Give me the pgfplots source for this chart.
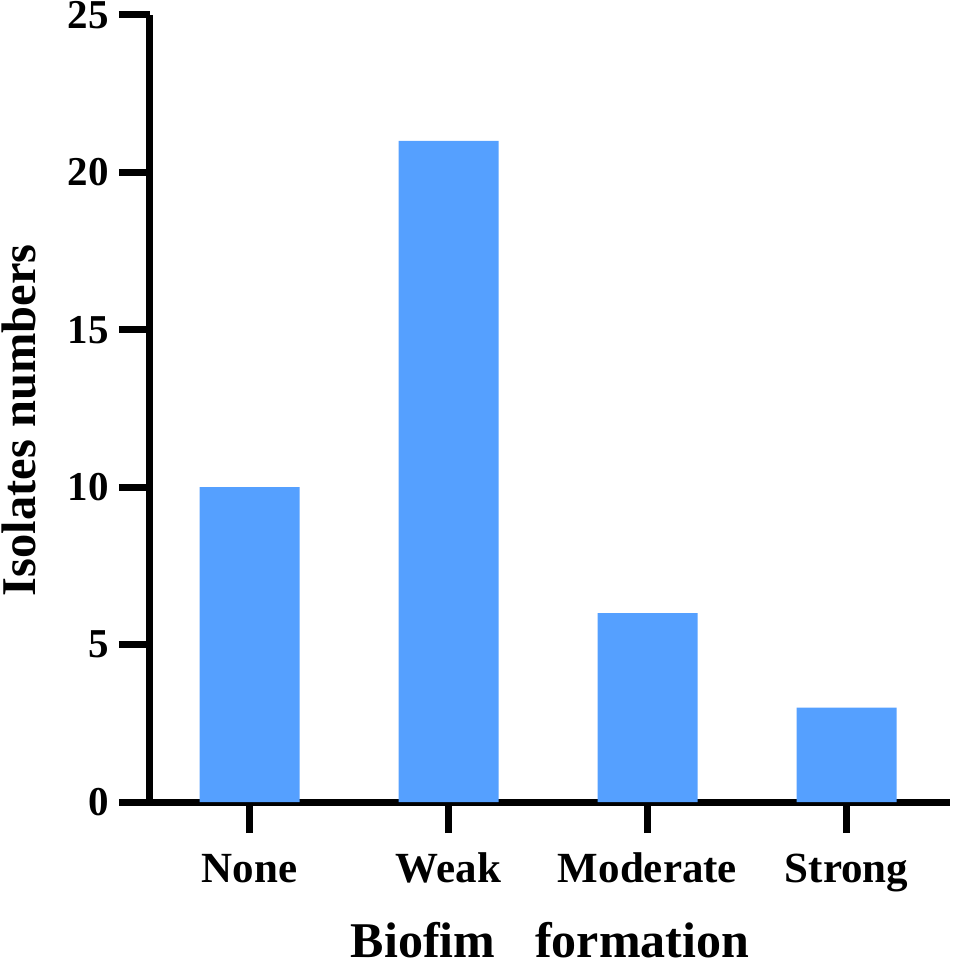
\documentclass[border=0pt]{standalone}
\usepackage{fontspec}
\setmainfont{Liberation Serif}
\usepackage{pgfplots}
\pgfplotsset{compat=1.18}
\definecolor{barblue}{RGB}{85,160,255}

\begin{document}
\begin{tikzpicture}
    % fixed page: axis box is 800 x 787 pt, lower-left at (0,0)
    \useasboundingbox (-150pt,-163pt) rectangle (802pt,802pt);
    \begin{axis}[
        at={(0pt,0pt)}, anchor=south west,
        scale only axis,
        width=800pt, height=787pt,
        ybar, bar width=100pt,
        xmin=-0.5, xmax=3.52,
        ymin=0, ymax=25,
        xtick=data,
        xticklabels={None,Weak,Moderate,Strong},
        ytick={0,5,...,25},
        axis x line=bottom, axis y line=left,
        axis line style={line width=7pt, -},
        tick style={line width=7pt, black},
        major tick length=31pt,
        tick align=outside,
        /pgf/number format/assume math mode=true,
        yticklabel style={font=\fontsize{41}{41}\selectfont\bfseries,
            anchor=east, inner sep=0pt, xshift=-10pt},
        xticklabel style={font=\fontsize{43}{43}\selectfont\bfseries,
            anchor=base, inner sep=0pt, yshift=-49pt},
        xlabel={Biofim\hspace{0.8em}formation},
        ylabel={Isolates numbers},
        xlabel style={font=\fontsize{50}{50}\selectfont\bfseries,
            at={(axis description cs:0.5,-0.198)}, anchor=base, inner sep=0pt},
        ylabel style={font=\fontsize{48.5}{48.5}\selectfont\bfseries,
            at={(axis description cs:-0.143,0.485)}, anchor=base, rotate=0, inner sep=0pt},
    ]
        \addplot[fill=barblue, draw=none] coordinates {
            (0,10) (1,21) (2,6) (3,3)
        };
    \end{axis}
\end{tikzpicture}
\end{document}
